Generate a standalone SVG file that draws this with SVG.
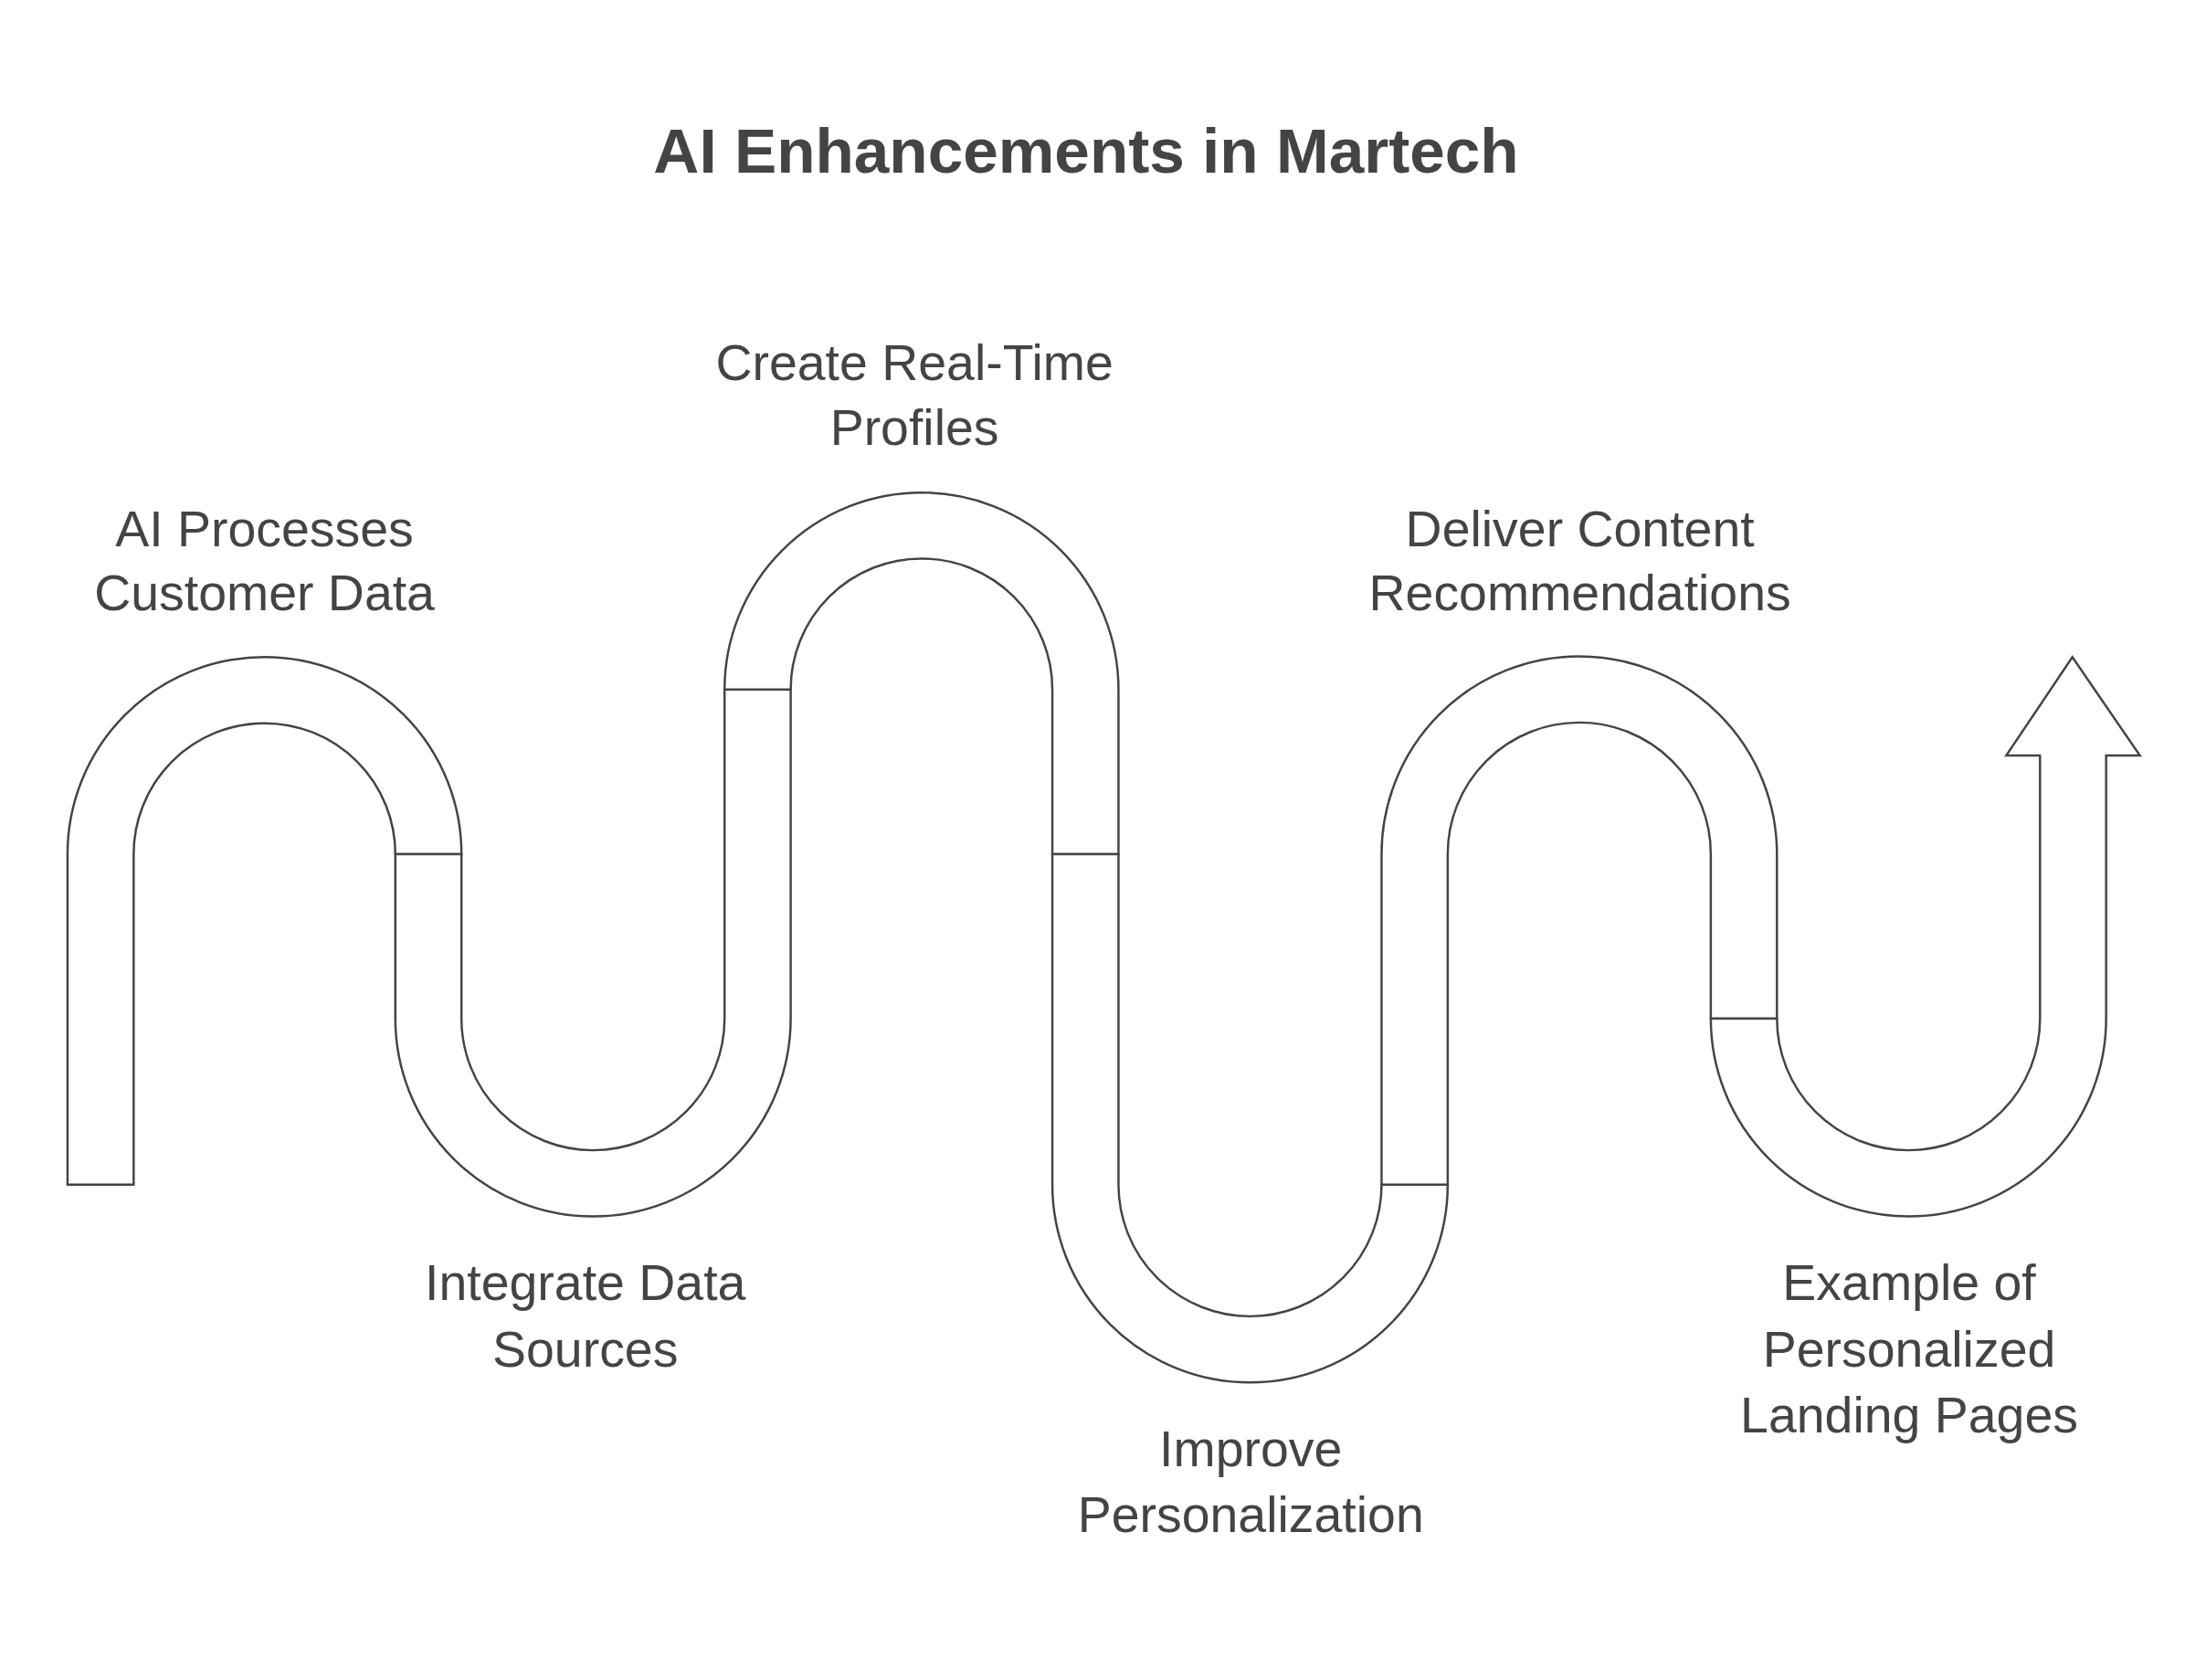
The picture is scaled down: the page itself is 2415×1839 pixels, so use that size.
<svg xmlns="http://www.w3.org/2000/svg" width="2415" height="1839" viewBox="0 0 2415 1839">
<style>
.s{fill:#fff;stroke:#444;stroke-width:1.6}
.t{font-family:"Liberation Sans",Arial,sans-serif;font-size:36px;fill:#444;text-anchor:middle}
.h{font-family:"Liberation Sans",Arial,sans-serif;font-size:45px;font-weight:bold;fill:#444;text-anchor:middle}
</style>
<rect width="2415" height="1839" fill="#fff"/>
<g transform="scale(1.5402)">
<text id="title" class="h" x="772" y="123">AI Enhancements in Martech</text>
<g id="connectors">
<path id="seg1" class="s" d="M48,842 L48,607 A140,140 0 0 1 328,607 L281,607 A93,93 0 0 0 95,607 L95,842 Z"/>
<path id="seg2" class="s" d="M281,607 L281,724 A140.5,140.5 0 0 0 562,724 L562,490 L515,490 L515,724 A93.5,93.5 0 0 1 328,724 L328,607 Z"/>
<path id="seg3" class="s" d="M515,490 A140,140 0 0 1 795,490 L795,607 L748,607 L748,490 A93,93 0 0 0 562,490 Z"/>
<path id="seg4" class="s" d="M748,607 L748,842 A140.5,140.5 0 0 0 1029,842 L982,842 A93.5,93.5 0 0 1 795,842 L795,607 Z"/>
<path id="seg5" class="s" d="M982,842 L982,607 A140.5,140.5 0 0 1 1263,607 L1263,724 L1216,724 L1216,607 A93.5,93.5 0 0 0 1029,607 L1029,842 Z"/>
<path id="seg6" class="s" d="M1216,724 A140.5,140.5 0 0 0 1497,724 L1497,537 L1521,537 L1473,467 L1426,537 L1450,537 L1450,724 A93.5,93.5 0 0 1 1263,724 Z"/>
</g>
<g id="n1"><text class="t" x="188" y="388">AI Processes</text><text class="t" x="188" y="434">Customer Data</text></g>
<g id="n2"><text class="t" x="416" y="924">Integrate Data</text><text class="t" x="416" y="971">Sources</text></g>
<g id="n3"><text class="t" x="650" y="270">Create Real-Time</text><text class="t" x="650" y="316">Profiles</text></g>
<g id="n4"><text class="t" x="889" y="1042">Improve</text><text class="t" x="889" y="1089">Personalization</text></g>
<g id="n5"><text class="t" x="1123" y="388">Deliver Content</text><text class="t" x="1123" y="434">Recommendations</text></g>
<g id="n6"><text class="t" x="1357" y="924">Example of</text><text class="t" x="1357" y="971">Personalized</text><text class="t" x="1357" y="1018">Landing Pages</text></g>
</g>
</svg>
